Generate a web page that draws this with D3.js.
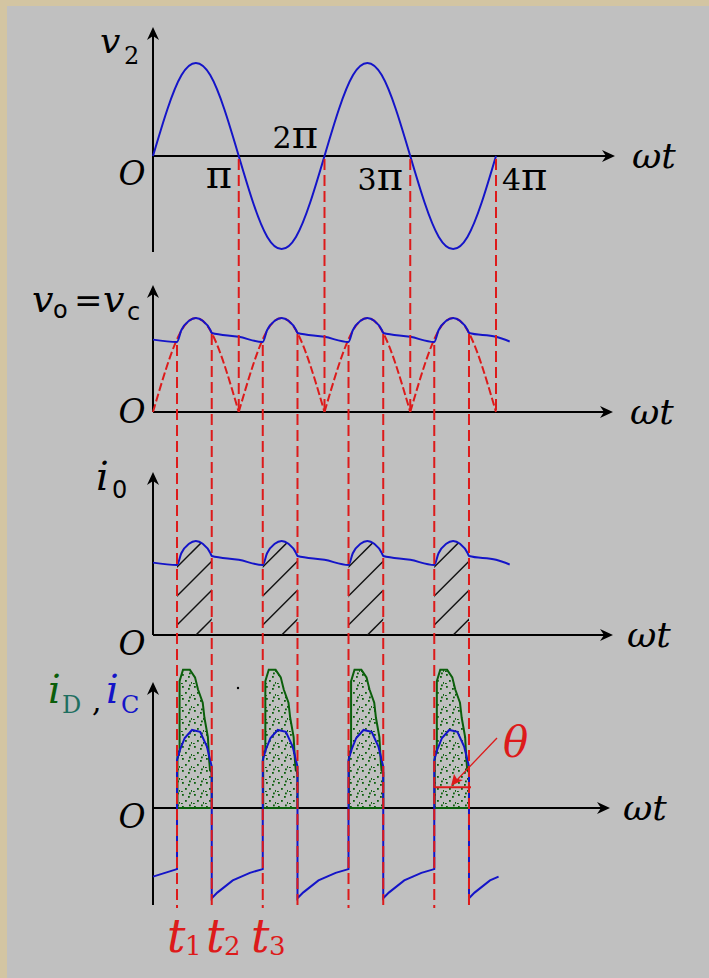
<!DOCTYPE html>
<html><head><meta charset="utf-8">
<script src="https://cdn.jsdelivr.net/npm/d3@7"></script>
<style>body{margin:0;background:#c0c0c0;overflow:hidden} svg{display:block}</style>
</head><body><svg id="c" width="709" height="978"></svg>
<script>
// ---------------- data (phase in units of π) ----------------
const cycles = [0, 1, 2, 3];
const piTicks = [1, 2, 3, 4];
const piCoef = ["", "2", "3", "4"];
const piLabels = ["π", "2π", "3π", "4π"];
const v2Phase = [0,0.167,0.333,0.5,0.667,0.833,1,1.167,1.333,1.5,1.667,1.833,2,2.167,2.333,2.5,2.667,2.833,3,3.167,3.333,3.5,3.667,3.833,4];
const v2Value = [0,0.5,0.87,1,0.87,0.5,0,-0.5,-0.87,-1,-0.87,-0.5,0,0.5,0.87,1,0.87,0.5,0,-0.5,-0.87,-1,-0.87,-0.5,0];
const vRectValue = [0,0.5,0.87,1,0.87,0.5,0,0.5,0.87,1,0.87,0.5,0,0.5,0.87,1,0.87,0.5,0,0.5,0.87,1,0.87,0.5,0];
const t1 = 0.28, t2 = 0.685;
// capacitor voltage / load current (same shape)
const vcStart = [[0, 0.77]];
const vcCyclePhase = [0.28,0.33,0.42,0.5,0.58,0.67,0.685,1.0];
const vcCycleValue = [0.745,0.87,0.97,1.0,0.97,0.87,0.84,0.80];
const vcTail = [[4.16, 0.75]];
// capacitor current
const icStart = [[0, -0.73]];
const icCyclePhase = [0.28,0.28,0.315,0.37,0.455,0.55,0.63,0.685,0.685,0.75,0.93,1.13];
const icCycleValue = [-0.65,0.51,0.62,0.745,0.83,0.81,0.65,0.44,-0.96,-0.90,-0.77,-0.69];
const icTail = [[4.03, -0.73]];
// diode current pulse
const iDCyclePhase = [0.285,0.285,0.31,0.31,0.35,0.43,0.49,0.525,0.58,0.6,0.64,0.655,0.665,0.685,0.685];
const iDCycleValue = [0,0.6,0.6,1.35,1.47,1.47,1.39,1.26,1.12,0.96,0.755,0.51,0.40,0.38,0];

// ---------------- drawing ----------------
const W = 709, H = 978;
const BLUE = "#1414c8", RED = "#dd1a1a", GREEN = "#0b5e0b", TEAL = "#1f6f60";
const SERIF = "'DejaVu Serif', 'Liberation Serif', serif";
const svg = d3.select("#c");
svg.append("rect").attr("width", W).attr("height", H).attr("fill", "#c0c0c0");
svg.append("rect").attr("width", W).attr("height", 6).attr("fill", "#d3c5a2");
svg.append("rect").attr("width", 7).attr("height", H).attr("fill", "#d3c5a2");

const defs = svg.append("defs");
const pat = defs.append("pattern").attr("id", "dots").attr("width", 12).attr("height", 12)
  .attr("patternUnits", "userSpaceOnUse");
[[2,2],[8,4],[5,8],[11,10],[1,11],[9,0.5]].forEach(p =>
  pat.append("rect").attr("x", p[0]).attr("y", p[1]).attr("width", 1.8).attr("height", 1.8).attr("fill", GREEN));

const x = d3.scaleLinear().domain([0, 4]).range([153, 496]);
const axisY = [156, 412, 635, 808];
const yS = axisY.map(a => d3.scaleLinear().domain([0, 1]).range([a, a - 94]));
yS[0] = d3.scaleLinear().domain([0, 1]).range([156, 63]);

function arrowUp(g, cx, ty) {
  g.append("path").attr("d", `M${cx},${ty} L${cx+6},${ty+13} L${cx},${ty+9} L${cx-6},${ty+13} Z`).attr("fill", "#000");
}
function arrowRight(g, tx, cy) {
  g.append("path").attr("d", `M${tx},${cy} L${tx-13},${cy-6} L${tx-9},${cy} L${tx-13},${cy+6} Z`).attr("fill", "#000");
}
function axes(i, yTop, yBot, xTip) {
  const g = svg.append("g");
  g.append("line").attr("x1", x(0)).attr("x2", x(0)).attr("y1", yBot).attr("y2", yTop + 3)
    .attr("stroke", "#000").attr("stroke-width", 2);
  g.append("line").attr("x1", x(0)).attr("x2", xTip - 3).attr("y1", axisY[i]).attr("y2", axisY[i])
    .attr("stroke", "#000").attr("stroke-width", 2);
  arrowUp(g, x(0), yTop);
  arrowRight(g, xTip, axisY[i]);
  return g;
}
function txt(t, px, py, size, opt = {}) {
  return svg.append("text").attr("x", px).attr("y", py).text(t)
    .attr("font-family", opt.family || SERIF).attr("font-size", size)
    .attr("font-style", opt.italic ? "italic" : "normal")
    .attr("fill", opt.fill || "#000").attr("text-anchor", opt.anchor || "start");
}

function buildSeries(start, ph, val, tail, end) {
  const pts = start.slice();
  cycles.forEach(k => ph.forEach((p, j) => { if (k + p <= end) pts.push([k + p, val[j]]); }));
  return pts.concat(tail);
}
const vcPts = buildSeries(vcStart, vcCyclePhase, vcCycleValue, vcTail, 4.16);
const icPts = buildSeries(icStart, icCyclePhase, icCycleValue, icTail, 4.03);

// ---------- axes ----------
axes(0, 27, 252, 615);
axes(1, 285, 412, 613);
axes(2, 472, 635, 613);
axes(3, 682, 905, 610);

// ---------- panel 1 ----------
const v2Pts = v2Phase.map((p, i) => [p, v2Value[i]]);
svg.append("path").attr("d", d3.line().x(d => x(d[0])).y(d => yS[0](d[1])).curve(d3.curveNatural)(v2Pts))
  .attr("fill", "none").attr("stroke", BLUE).attr("stroke-width", 2);

// ---------- panel 2 ----------
for (let a = 0; a < 4; a++) {
  const arch = v2Phase.slice(a * 6, a * 6 + 7).map((p, i) => [p, vRectValue[a * 6 + i]]);
  svg.append("path").attr("d", d3.line().x(d => x(d[0])).y(d => yS[1](d[1])).curve(d3.curveNatural)(arch))
    .attr("fill", "none").attr("stroke", RED).attr("stroke-width", 2).attr("stroke-dasharray", "8,3");
}
svg.append("path").attr("d", d3.line().x(d => x(d[0])).y(d => yS[1](d[1])).curve(d3.curveMonotoneX)(vcPts))
  .attr("fill", "none").attr("stroke", BLUE).attr("stroke-width", 2);

// ---------- panel 3 ----------
cycles.forEach(k => {
  const seg = vcPts.filter(d => d[0] >= k + t1 - 1e-6 && d[0] <= k + t2 + 1e-6);
  const cid = "hc" + k;
  defs.append("clipPath").attr("id", cid).append("path")
    .attr("d", d3.area().x(d => x(d[0])).y0(axisY[2]).y1(d => yS[2](d[1])).curve(d3.curveMonotoneX)(seg));
  const g = svg.append("g").attr("clip-path", `url(#${cid})`);
  const x0 = x(k + t1);
  for (let j = -1; j <= 3; j++) {
    const off = 10 + 29 * j;
    g.append("line").attr("x1", x0 - 60).attr("y1", axisY[2] - off + 60)
      .attr("x2", x0 + 120).attr("y2", axisY[2] - off - 120)
      .attr("stroke", "#111").attr("stroke-width", 1.5);
  }
});
svg.append("path").attr("d", d3.line().x(d => x(d[0])).y(d => yS[2](d[1])).curve(d3.curveMonotoneX)(vcPts))
  .attr("fill", "none").attr("stroke", BLUE).attr("stroke-width", 2);

// ---------- panel 4 ----------
cycles.forEach(k => {
  const pts = iDCyclePhase.map((p, j) => [k + p, iDCycleValue[j]]);
  svg.append("path").attr("d", d3.line().x(d => x(d[0])).y(d => yS[3](d[1]))(pts) + "Z")
    .attr("fill", "url(#dots)").attr("stroke", GREEN).attr("stroke-width", 2);
});
svg.append("path").attr("d", d3.line().x(d => x(d[0])).y(d => yS[3](d[1]))(icPts))
  .attr("fill", "none").attr("stroke", BLUE).attr("stroke-width", 2);
svg.append("circle").attr("cx", 238).attr("cy", 688).attr("r", 1.2).attr("fill", "#000");

// conduction angle marker
svg.append("line").attr("x1", x(3 + t1)).attr("x2", x(3 + t2) + 2)
  .attr("y1", yS[3](0.22)).attr("y2", yS[3](0.22)).attr("stroke", RED).attr("stroke-width", 2);
svg.append("line").attr("x1", 497).attr("y1", 738).attr("x2", 456).attr("y2", 781)
  .attr("stroke", RED).attr("stroke-width", 1.3);
svg.append("path").attr("d", "M451,786 L454,774 L457,779 L463,780 Z").attr("fill", RED);
txt("θ", 503, 757, 42, { italic: true, fill: RED });

// ---------- red dashed guide lines ----------
const dash = "11,5";
piTicks.forEach(p => {
  svg.append("line").attr("x1", x(p)).attr("x2", x(p)).attr("y1", 159).attr("y2", 410)
    .attr("stroke", RED).attr("stroke-width", 2).attr("stroke-dasharray", dash);
});
cycles.forEach(k => {
  svg.append("line").attr("x1", x(k + t1)).attr("x2", x(k + t1)).attr("y1", 345).attr("y2", 908)
    .attr("stroke", RED).attr("stroke-width", 2).attr("stroke-dasharray", dash);
  svg.append("line").attr("x1", x(k + t2)).attr("x2", x(k + t2)).attr("y1", 334).attr("y2", 908)
    .attr("stroke", RED).attr("stroke-width", 2).attr("stroke-dasharray", dash);
});

// ---------- labels ----------
// panel 1
txt("v", 100, 53, 36, { italic: true });
txt("2", 124, 64, 24);
txt("O", 132, 185, 33, { italic: true, anchor: "middle" });
const piPlace = [[232, 188, "end"], [318, 148, "end"], [403, 190, "end"], [502, 190, "start"]];
piLabels.forEach((l, i) => {
  const t = svg.append("text").attr("x", piPlace[i][0]).attr("y", piPlace[i][1])
    .attr("font-family", SERIF).attr("text-anchor", piPlace[i][2]).attr("fill", "#000");
  t.append("tspan").attr("font-size", 30).text(piCoef[i]);
  t.append("tspan").attr("font-size", 40).text("π");
});
const wtPlace = [632, 630, 627, 623];
axisY.forEach((a, i) => txt("ωt", wtPlace[i], a + 12, 36, { italic: true }));
// panel 2
txt("v", 32, 312, 38, { italic: true });
txt("o", 53, 318, 24, { family: "'DejaVu Sans', sans-serif" });
txt("=", 74, 312, 34);
txt("v", 103, 312, 38, { italic: true });
txt("c", 127, 320, 24, { family: "'DejaVu Sans', sans-serif" });
txt("O", 132, 423, 33, { italic: true, anchor: "middle" });
// panel 3
txt("i", 96, 490, 40, { italic: true });
txt("0", 112, 498, 24, { family: "'DejaVu Sans', sans-serif" });
txt("O", 132, 655, 33, { italic: true, anchor: "middle" });
// panel 4
txt("i", 48, 703, 40, { italic: true, fill: GREEN });
txt("D", 62, 713, 24, { fill: TEAL });
txt(",", 92, 711, 30);
txt("i", 106, 703, 40, { italic: true, fill: BLUE });
txt("C", 121, 713, 24, { fill: BLUE });
txt("O", 132, 828, 33, { italic: true, anchor: "middle" });
// time marks
[["t", "1", 167], ["t", "2", 206], ["t", "3", 251]].forEach(d => {
  txt(d[0], d[2], 952, 46, { italic: true, fill: RED });
  txt(d[1], d[2] + 18, 955, 26, { fill: RED });
});
</script></body></html>
